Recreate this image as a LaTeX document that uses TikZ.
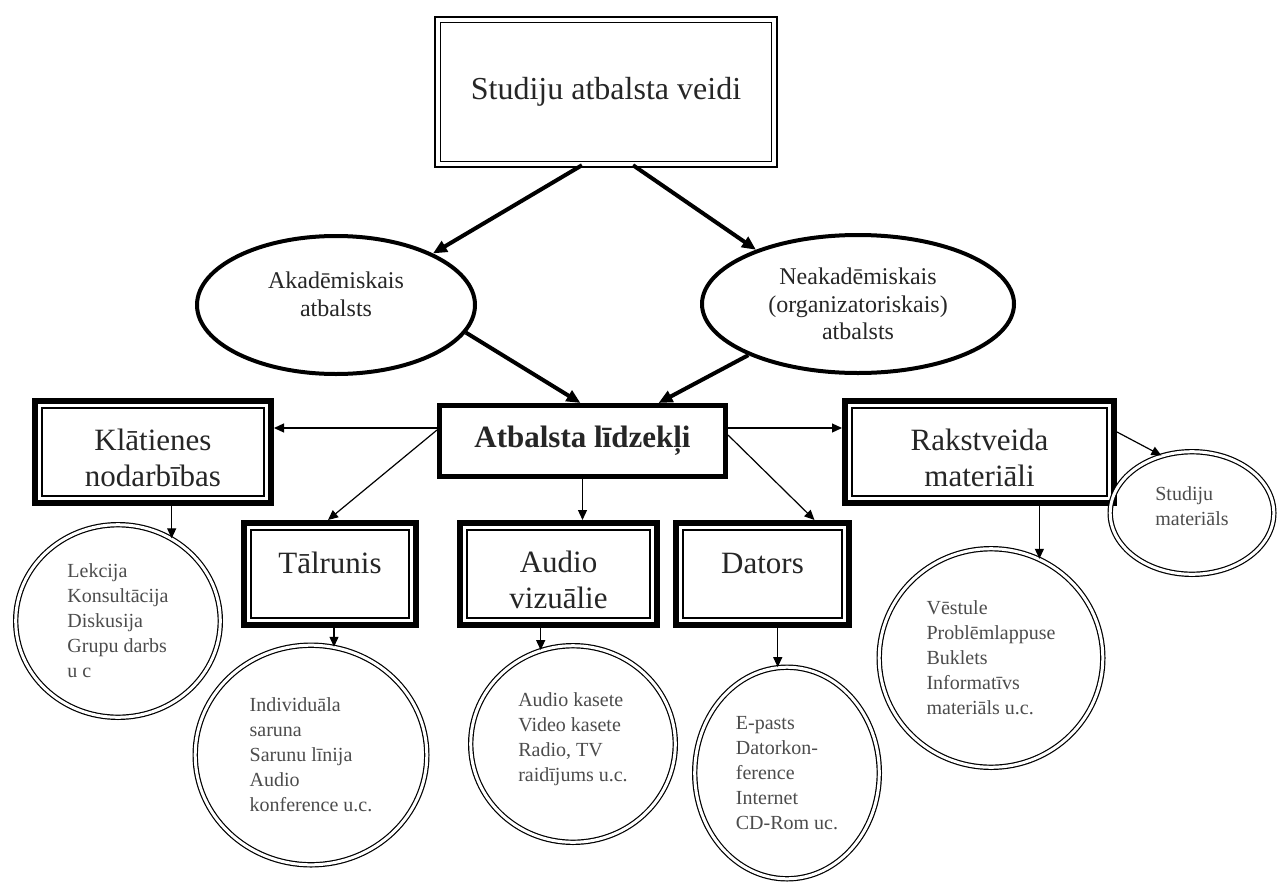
\documentclass[tikz,border=0pt]{standalone}
\usepackage{fontspec}
\setmainfont{Liberation Serif}
\usetikzlibrary{shapes.geometric,arrows.meta}
\newcommand{\tallstrut}{\rule{0pt}{17pt}}

\begin{document}
\begin{tikzpicture}
  [x=0.5pt,y=-0.5pt,
   every node/.style={align=center,inner sep=0pt,text=black!85},
   topbox/.style={draw,line width=0.8pt,double,double distance=2pt,
     minimum width=168.4pt,minimum height=72.4pt,font=\fontsize{16}{19}\selectfont},
   midbox/.style={draw,line width=2.5pt,minimum width=143pt,minimum height=35.5pt,
     font=\fontsize{15.5}{18}\selectfont\bfseries},
   kindbox/.style={draw,line width=0.9pt,outer sep=5pt,minimum height=44pt,
     font=\fontsize{15.5}{18}\selectfont},
   oval/.style={ellipse,draw,line width=2pt,minimum height=69pt,
     font=\fontsize{12}{13.75}\selectfont},
   ring/.style={ellipse,draw,line width=0.6pt,double,double distance=1.5pt,
     align=left,text=black!70,font=\fontsize{10}{12.5}\selectfont},
   lifted/.style={execute at end node={\rule[-#1]{0pt}{0pt}}},
   bigarr/.style={line width=2pt,-{Triangle[length=7pt,width=6pt]}},
   arr/.style={line width=0.6pt,-{Triangle[length=5pt,width=4.5pt]}}]
  \fill[white] (0,0) rectangle (1278,883);
  \useasboundingbox (0,0) rectangle (1278,883);

  % top and the two kinds of support
  \node[topbox] (top) at (606,92) {Studiju atbalsta veidi};
  \node[oval,lifted=11pt,minimum width=139pt] (akad) at (336,305) {Akadēmiskais\\atbalsts};
  \node[oval,minimum width=156pt] (neak) at (858,304) {Neakadēmiskais\\(organizatoriskais)\\atbalsts};
  \node[midbox] (mid) at (582.5,441) {Atbalsta līdzekļi};

  % means
  \node[kindbox,minimum width=111pt] (klat) at (153,452) {\tallstrut Klātienes\\nodarbības};
  \node[kindbox,minimum width=79pt] (tal) at (330,574) {\tallstrut Tālrunis\\\mbox{}};
  \node[kindbox,minimum width=91.5pt] (aud) at (558.5,574) {\tallstrut Audio\\vizuālie};
  \node[kindbox,minimum width=79.5pt] (dat) at (762.5,574) {\tallstrut Dators\\\mbox{}};
  \node[kindbox,minimum width=127.5pt] (rak) at (979.5,452) {\tallstrut Rakstveida\\materiāli};
  \foreach \n in {klat,tal,aud,dat,rak}
    \draw[line width=3pt] ([shift={(1.5pt,1.5pt)}]\n.south west) rectangle ([shift={(-1.5pt,-1.5pt)}]\n.north east);

  % forms
  \node[ring,minimum width=102.3pt,minimum height=96.3pt] (klc) at (118,621)
    {Lekcija\\Konsultācija\\Diskusija\\Grupu darbs\\u c};
  \node[ring,minimum width=115.8pt,minimum height=109.8pt] (talc) at (311,755)
    {Individuāla\\saruna\\Sarunu līnija\\Audio\\konference u.c.};
  \node[ring,lifted=7pt,minimum width=102.3pt,minimum height=98.3pt] (audc) at (573,744)
    {Audio kasete\\Video kasete\\Radio, TV\\raidījums u.c.};
  \node[ring,minimum width=92.3pt,minimum height=105.8pt] (datc) at (787,773)
    {E-pasts\\Datorkon-\\ference\\Internet\\CD-Rom uc.};
  \node[ring,minimum width=111.8pt,minimum height=109.3pt] (rakc) at (991,658)
    {Vēstule\\Problēmlappuse\\Buklets\\Informatīvs\\materiāls u.c.};
  \node[ring,lifted=7pt,minimum width=81.8pt,minimum height=61.3pt] (stmc) at (1192,513)
    {Studiju\\materiāls};

  \draw[bigarr] ([xshift=-12pt]top.south) -- (akad.28);
  \draw[bigarr] ([xshift=13.5pt]top.south) -- (neak.152);
  \draw[bigarr] (akad.-12) -- ([xshift=-1pt]mid.north);
  \draw[bigarr] (neak.205) -- ([xshift=38pt]mid.north);

  \draw[arr] ([yshift=6.5pt]mid.west) -- ([yshift=6.5pt]mid.west -| klat.east);
  \draw[arr] ([yshift=5.5pt]mid.west) -- ([xshift=-1pt]tal.north);
  \draw[arr] (mid.south) -- (mid.south |- aud.north);
  \draw[arr] ([yshift=3pt]mid.east) -- ([xshift=26pt]dat.north);
  \draw[arr] ([yshift=6.5pt]mid.east) -- ([yshift=6.5pt]mid.east -| rak.west);
  \draw[arr] ([yshift=10pt]rak.east) -- (stmc.118);
  \foreach \from/\to/\ang in {klat/klc/57,tal/talc/78,aud/audc/109,dat/datc/95,rak/rakc/64}
    \draw[arr] (\to.\ang |- \from.south) -- (\to.\ang);
\end{tikzpicture}
\end{document}
